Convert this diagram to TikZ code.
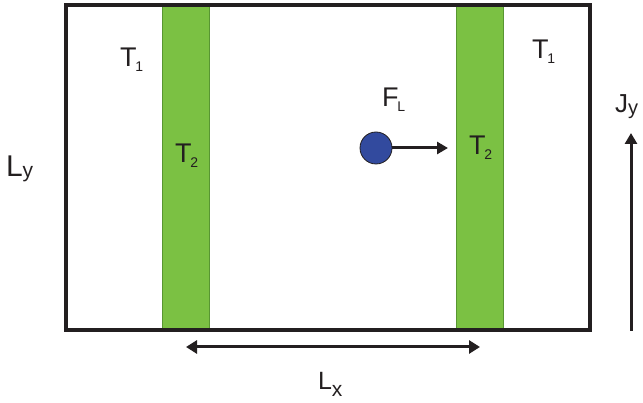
\documentclass[tikz,border=0pt]{standalone}
\usepackage{fontspec}
\setmainfont{Liberation Sans}
\usetikzlibrary{arrows.meta}
\definecolor{stripgreen}{RGB}{123,193,67}
\definecolor{stripedge}{RGB}{88,150,50}
\definecolor{ballblue}{RGB}{50,74,158}
\definecolor{ink}{RGB}{35,31,32}
\newcommand\lowsub[2]{\kern-1pt\raisebox{-5pt}{\fontsize{#1}{#1}\selectfont #2}}
\tikzset{
  lbl/.style={anchor=base west, inner sep=0pt, outer sep=0pt, text=ink, font=\fontsize{27}{27}\selectfont},
  stripbox/.style={draw=stripedge, line width=0.8pt, fill=stripgreen, inner sep=0pt, minimum width=47pt, minimum height=325pt},
  arr/.style={draw=ink, line width=3pt, -{Triangle[length=11pt,width=12pt]}},
  darr/.style={draw=ink, line width=3pt, {Triangle[length=11pt,width=13pt]}-{Triangle[length=11pt,width=13pt]}},
}
\begin{document}
\begin{tikzpicture}[x=1pt,y=-1pt]
\useasboundingbox (0,0) rectangle (643,403);
% strips
\node[stripbox] (s1) at (185.5,167.5) {};
\node[stripbox] (s2) at (479.5,167.5) {};
% outer box
\draw[ink, line width=4pt] (66,5) rectangle (590,330);
% labels
\node[lbl] (t1a) at (120,67) {T\lowsub{14}{1}};
\node[lbl] (t2a) at (175,163) {T\lowsub{14}{2}};
\node[lbl] (t2b) at (469,155) {T\lowsub{14}{2}};
\node[lbl] (t1b) at (532,59) {T\lowsub{14}{1}};
\node[lbl] (fl) at (382,107) {F\lowsub{14}{L}};
\node[lbl, font=\fontsize{30}{30}\selectfont] (ly) at (6,177) {L\raisebox{-1pt}{\fontsize{21}{21}\selectfont y}};
\node[lbl, font=\fontsize{26}{26}\selectfont] (jy) at (615,113) {J\raisebox{-2pt}{\fontsize{20}{20}\selectfont y}};
\node[lbl, font=\fontsize{25}{25}\selectfont] (lx) at (318,390) {L\raisebox{-7pt}{\fontsize{21}{21}\selectfont x}};
% ball and force arrow
\node[circle, draw=ink, line width=0.8pt, fill=ballblue, minimum size=32pt, inner sep=0pt] (ball) at (376,148) {};
\coordinate (fend) at (448,148);
\draw[arr] (ball.east) -- (fend);
% Lx arrow
\coordinate (lxa) at (186,347);
\coordinate (lxb) at (480,347);
\draw[darr] (lxa) -- (lxb);
% Jy arrow
\coordinate (jya) at (631,331);
\coordinate (jyb) at (631,133);
\draw[arr] (jya) -- (jyb);
\end{tikzpicture}
\end{document}
